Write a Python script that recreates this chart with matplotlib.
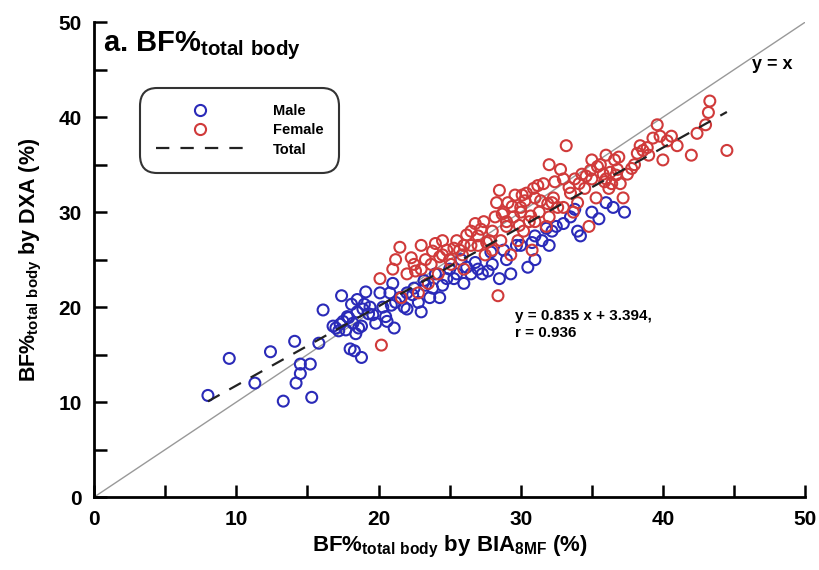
import numpy as np
import matplotlib
matplotlib.use("Agg")
import matplotlib.pyplot as plt
from matplotlib.lines import Line2D

plt.rcParams['font.family'] = 'Liberation Sans'
plt.rcParams['font.weight'] = 'bold'
plt.rcParams['axes.labelweight'] = 'bold'
plt.rcParams['mathtext.fontset'] = 'custom'
plt.rcParams['mathtext.rm'] = 'Liberation Sans:bold'
plt.rcParams['mathtext.default'] = 'rm'

# Male: BIA (x) vs DXA (y)
male_x = [8.0, 9.5, 11.3, 12.4, 13.3, 14.1, 14.2, 14.5, 14.5, 15.3, 15.2, 15.8, 16.1, 17.0,
          17.4, 17.5, 17.7, 17.8, 18.0, 18.2, 18.3, 18.6, 18.5, 18.5, 18.8, 18.8, 19.1, 19.4,
          19.8, 20.1, 20.3, 20.5, 20.8, 21.0, 21.2, 21.1, 22.0, 22.5, 22.8, 23.0, 23.3, 23.6,
          24.0, 24.3, 24.5, 25.0, 25.3, 25.8, 26.0, 26.5, 27.0, 27.3, 27.7, 28.0, 28.5, 29.0,
          29.3, 30.0, 30.5, 31.0, 31.5, 32.0, 32.5, 33.5, 34.0, 34.2, 35.0, 36.0, 36.5, 37.3,
          32.2, 31.0, 26.8, 22.0, 20.6, 16.8, 17.2, 19.0, 21.8, 23.8, 25.5, 28.8, 30.8, 33.0,
          17.9, 18.4, 18.9, 17.3, 19.6, 20.9, 21.5, 22.4, 24.8, 26.2, 27.9, 29.7, 31.8, 35.5,
          33.8, 23.2, 19.3, 18.1]
male_y = [10.7, 14.6, 12.0, 15.3, 10.1, 16.4, 12.0, 13.0, 14.0, 10.5, 14.0, 16.2, 19.7, 17.8,
          21.2, 18.5, 17.6, 19.0, 15.6, 18.3, 15.4, 17.8, 19.5, 20.8, 14.7, 18.0, 21.6, 20.0,
          18.3, 21.5, 20.0, 19.0, 21.5, 22.5, 20.5, 17.8, 21.5, 22.0, 20.5, 19.5, 22.3, 21.0,
          23.5, 21.0, 22.3, 24.0, 23.0, 25.0, 22.5, 23.5, 24.0, 23.5, 23.8, 24.5, 23.0, 25.0,
          23.5, 26.5, 24.2, 25.0, 27.0, 26.5, 28.5, 29.5, 28.0, 27.5, 30.0, 31.0, 30.5, 30.0,
          28.0, 27.5, 24.7, 19.8, 18.5, 18.0, 17.5, 20.3, 20.0, 22.0, 23.5, 26.0, 26.8, 28.8,
          18.9, 17.2, 19.8, 18.2, 19.2, 20.2, 21.0, 21.3, 23.0, 24.2, 25.8, 26.5, 28.3, 29.3,
          30.3, 22.8, 19.3, 20.3]

# Female: BIA (x) vs DXA (y)
female_x = [20.1, 20.2, 21.0, 21.5, 21.6, 22.0, 22.5, 23.0, 23.3, 23.7, 24.0, 24.2, 24.5, 24.8,
            25.1, 25.5, 25.9, 26.0, 26.5, 26.5, 27.0, 27.5, 27.8, 28.0, 28.2, 28.4, 28.5, 28.6,
            28.8, 29.0, 29.1, 29.3, 29.5, 29.8, 30.0, 30.2, 30.4, 30.6, 30.8, 31.0, 31.3, 31.6,
            31.8, 32.0, 32.3, 32.6, 33.0, 33.2, 33.5, 33.8, 34.0, 34.3, 34.5, 35.0, 35.3, 35.6,
            35.8, 36.0, 36.2, 36.4, 36.6, 36.8, 37.0, 37.2, 37.5, 38.0, 38.4, 38.6, 39.0, 39.6,
            39.8, 40.0, 40.3, 40.6, 42.0, 42.4, 43.0, 43.2, 43.3, 44.5, 35.0, 34.8, 36.0, 33.0,
            32.0, 31.0, 30.0, 29.0, 28.0, 27.0, 26.0, 25.0, 24.5, 23.5, 22.8, 21.2, 22.3, 23.0,
            28.3, 29.6, 30.9, 32.8, 34.1, 26.8, 25.3, 27.4, 31.4, 33.7,
            28.7, 29.4, 30.3, 30.7, 31.2, 31.9, 32.4, 33.4, 34.6, 35.4, 35.9, 36.3, 36.9, 37.8,
            38.9, 39.3, 27.2, 26.2, 25.7, 24.3, 23.8, 22.6, 29.9, 32.2, 34.9, 36.7, 38.2, 41.0,
            27.6, 30.1]
female_y = [23.0, 16.0, 24.0, 26.3, 21.0, 23.5, 24.5, 24.0, 25.0, 24.5, 26.7, 23.5, 25.5, 26.0,
            24.5, 27.0, 25.5, 24.0, 26.5, 28.0, 26.5, 25.5, 27.0, 28.0, 29.5, 21.2, 32.3, 27.0,
            30.0, 28.5, 31.0, 25.5, 29.5, 27.0, 30.5, 28.0, 32.0, 29.0, 26.0, 31.5, 30.0, 33.0,
            28.5, 35.0, 31.5, 30.5, 33.5, 37.0, 32.0, 33.5, 31.0, 34.0, 32.5, 33.5, 31.5, 35.0,
            34.0, 36.0, 32.5, 33.0, 35.5, 34.5, 33.0, 31.5, 34.0, 35.0, 37.0, 36.5, 36.0, 39.2,
            38.0, 35.5, 37.5, 38.0, 36.0, 38.3, 39.2, 40.5, 41.7, 36.5, 35.5, 28.5, 33.5, 30.5,
            29.5, 29.0, 30.0, 29.0, 26.0, 27.5, 26.5, 25.0, 27.0, 22.5, 21.5, 25.0, 25.2, 26.5,
            31.0, 31.8, 32.5, 34.5, 33.0, 28.8, 26.2, 29.0, 31.2, 30.0,
            29.8, 30.6, 31.2, 29.6, 32.8, 30.9, 33.2, 32.6, 33.8, 34.8, 33.2, 34.2, 35.8, 34.6,
            36.8, 37.8, 28.2, 27.6, 26.0, 25.3, 25.9, 23.8, 28.6, 31.0, 34.4, 33.9, 36.2, 37.0,
            26.8, 31.8]

slope, intercept = 0.835, 3.394
fit_range = [8.0, 44.5]
ticks = [0, 10, 20, 30, 40, 50]

fig = plt.figure(figsize=(8.19, 5.70), dpi=100)
ax = fig.add_axes([0.115, 0.128, 0.868, 0.833])

ax.plot([0, 50], [0, 50], color='#999999', lw=1.0, zorder=1)
fx = np.array(fit_range)
ax.plot(fx, slope * fx + intercept, color='#222222', lw=1.6, ls=(0, (6, 5)), zorder=4)

ax.scatter(male_x, male_y, s=62, facecolors='none', edgecolors='#2a2ab8', linewidths=1.5, zorder=2)
ax.scatter(female_x, female_y, s=62, facecolors='none', edgecolors='#d03a3a', linewidths=1.5, zorder=3)

ax.set_xlim(0, 50)
ax.set_ylim(0, 50)
ax.set_xticks(ticks)
ax.set_yticks(ticks)
ax.set_xticks([5, 15, 25, 35, 45], minor=True)
ax.set_yticks([5, 15, 25, 35, 45], minor=True)
ax.tick_params(which='both', direction='in', length=9, width=1.8, labelsize=15, pad=9)
for lab in ax.get_xticklabels() + ax.get_yticklabels():
    lab.set_fontweight('bold')
for s in ['top', 'right']:
    ax.spines[s].set_visible(False)
for s in ['left', 'bottom']:
    ax.spines[s].set_linewidth(2)

ax.set_xlabel(r'BF%$_{total\ body}$ by BIA$_{8MF}$ (%)', fontsize=16, fontweight='bold', labelpad=4)
ax.set_ylabel(r'BF%$_{total\ body}$ by DXA (%)', fontsize=15.5, fontweight='bold', labelpad=10)

ax.text(0.012, 0.985, r'a. BF%$_{total\ body}$', transform=ax.transAxes, fontsize=21,
        fontweight='bold', va='top', ha='left')
ax.text(46.3, 45.5, 'y = x', fontsize=13, fontweight='bold', ha='left', va='center')
ax.text(29.6, 18.2, 'y = 0.835 x + 3.394,\nr = 0.936', fontsize=11, fontweight='bold',
        ha='left', va='center', linespacing=1.3)

handles = [
    Line2D([], [], marker='o', ls='none', mfc='none', mec='#2a2ab8', mew=1.5, ms=8),
    Line2D([], [], marker='o', ls='none', mfc='none', mec='#d03a3a', mew=1.5, ms=8),
    Line2D([], [], color='#222222', lw=1.6, ls=(0, (6, 5))),
]
leg = ax.legend(handles, ['Male', 'Female', 'Total'], loc='upper left',
                bbox_to_anchor=(0.058, 0.87), handlelength=6,
                handletextpad=2.0, borderpad=0.9, labelspacing=0.35, fancybox=True,
                prop={'weight': 'bold', 'size': 10.5})
leg.get_frame().set_edgecolor('black')
leg.get_frame().set_linewidth(1.5)
leg.get_frame().set_boxstyle('round', pad=0.2, rounding_size=1.2)

fig.savefig('out.png', dpi=100)
